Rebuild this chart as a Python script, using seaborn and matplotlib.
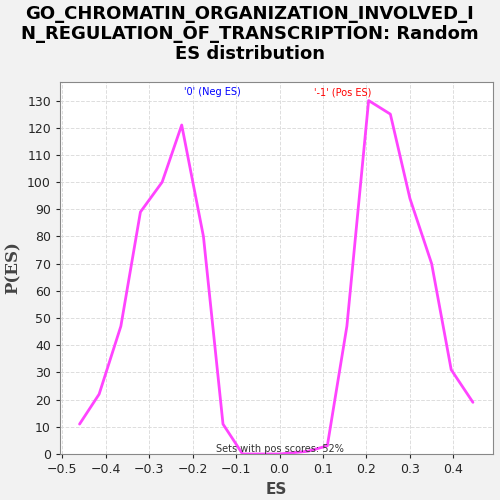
import matplotlib
matplotlib.use("Agg")
import matplotlib.pyplot as plt
import seaborn as sns
import pandas as pd

es = [-0.46,-0.415,-0.365,-0.32,-0.27,-0.225,-0.175,-0.13,-0.085,-0.04,0.0,0.065,0.11,0.155,0.205,0.255,0.3,0.35,0.395,0.445]
p  = [11,22,47,89,100,121,80,11,0,0,0,1,3,47,130,125,94,70,31,19]
df = pd.DataFrame({"ES": es, "P": p})

sns.set_style("whitegrid")
fig = plt.figure(figsize=(5,5), dpi=100, facecolor="#f2f2f2")
ax = fig.add_axes([0.12,0.092,0.865,0.745])
sns.lineplot(data=df, x="ES", y="P", ax=ax, color="#ff44ff", linewidth=2)
ax.set_xlim(-0.505,0.49)
ax.set_ylim(0,137)
ax.set_xticks([-0.5,-0.4,-0.3,-0.2,-0.1,0.0,0.1,0.2,0.3,0.4])
ax.set_yticks(range(0,131,10))
ax.tick_params(labelsize=9, length=3, left=True, bottom=True)
ax.grid(True, linestyle="--", color="#dddddd", linewidth=0.7)
for s in ax.spines.values():
    s.set_color("#888888")
ax.set_xlabel("ES", fontsize=11, fontweight="bold", color="#444444")
ax.set_ylabel("P(ES)", fontsize=12, fontweight="bold", family="serif", color="#444444")
ax.text(-0.155,132,"'0' (Neg ES)",color="blue",fontsize=7,ha="center")
ax.text(0.145,132,"'-1' (Pos ES)",color="red",fontsize=7,ha="center")
ax.text(0.0,0.8,"Sets with pos scores: 52%",fontsize=7,ha="center",color="#333333")
fig.suptitle("GO_CHROMATIN_ORGANIZATION_INVOLVED_I\nN_REGULATION_OF_TRANSCRIPTION: Random\nES distribution",
             fontsize=13, fontweight="bold", y=0.99, linespacing=1.15, color="black")
fig.savefig("out.png", dpi=100, facecolor=fig.get_facecolor())
